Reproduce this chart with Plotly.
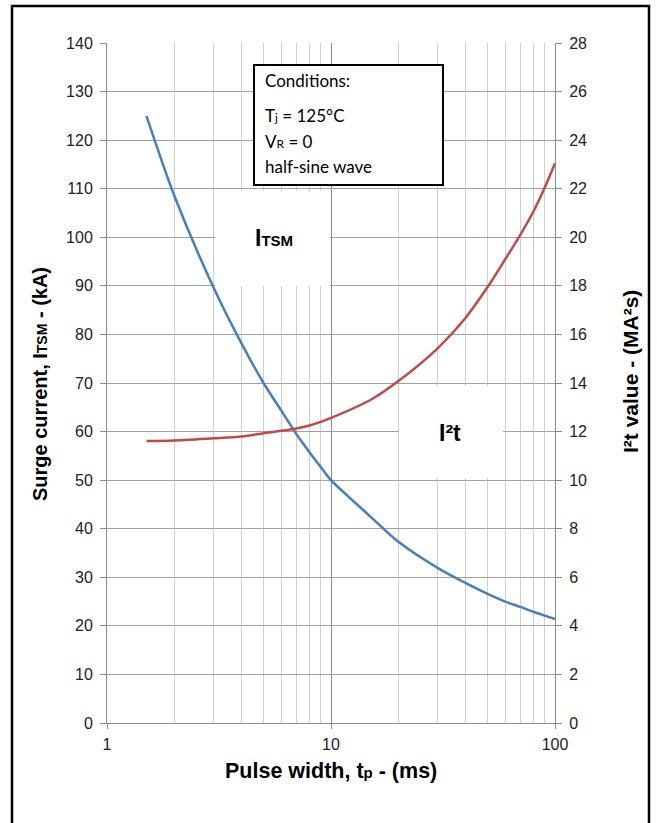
import plotly.graph_objects as go

# ---- data ----
tp_itsm = [1.5, 2, 3, 4, 5, 6, 7, 8, 9, 10, 15, 20, 30, 40, 50, 60, 70, 80, 90, 100]
itsm_ka = [125, 108.5, 89.5, 78, 70, 64.3, 59.5, 55.8, 52.7, 50, 42.5, 37.3, 31.9, 28.8, 26.6, 25.0, 23.9, 22.9, 22.1, 21.4]

tp_i2t = [1.5, 2, 3, 4, 5, 6, 7, 8, 9, 10, 15, 20, 30, 40, 50, 60, 70, 80, 90, 100]
i2t_ma2s = [11.61, 11.63, 11.72, 11.8, 11.93, 12.03, 12.13, 12.25, 12.4, 12.56, 13.3, 14.08, 15.44, 16.7, 17.95, 19.1, 20.1, 21.05, 22.05, 23.05]

x_major = [1, 10, 100]
x_minor = [2, 3, 4, 5, 6, 7, 8, 9, 20, 30, 40, 50, 60, 70, 80, 90]

W, H = 657, 823
L, R, T, B = 107, 555, 43, 723


def px(x):
    return (x - L) / (R - L)


def py(y):
    return (B - y) / (B - T)


fig = go.Figure()
fig.add_trace(go.Scatter(x=tp_itsm, y=itsm_ka, mode="lines", yaxis="y",
                         line=dict(color="#4a7ebb", width=2.5, shape="spline", smoothing=0.8),
                         showlegend=False, hoverinfo="skip"))
fig.add_trace(go.Scatter(x=tp_i2t, y=i2t_ma2s, mode="lines", yaxis="y2",
                         line=dict(color="#be4b48", width=2.5, shape="spline", smoothing=0.8),
                         showlegend=False, hoverinfo="skip"))

tickfont = dict(family="Liberation Sans, Arial, sans-serif", size=16, color="#222222")

fig.update_layout(
    width=W, height=H,
    margin=dict(l=L, r=W - R, t=T, b=H - B),
    paper_bgcolor="white", plot_bgcolor="white",
    xaxis=dict(type="log", range=[0, 2], tickvals=x_major, ticktext=["1", "10", "100"],
               showgrid=True, gridcolor="#8c8c8c", gridwidth=1,
               ticks="outside", ticklen=5, tickcolor="#8c8c8c",
               showline=True, linecolor="#8c8c8c", linewidth=1,
               tickfont=tickfont, zeroline=False, ticklabelstandoff=2,
               minor=dict(tickvals=x_minor, showgrid=True, gridcolor="#d0d0d0", gridwidth=1, ticks="")),
    yaxis=dict(range=[0, 140], dtick=10, showgrid=True, gridcolor="#a0a0a0", gridwidth=1,
               ticks="outside", ticklen=6, tickcolor="#8c8c8c",
               showline=True, linecolor="#8c8c8c", linewidth=1,
               tickfont=tickfont, zeroline=False, ticklabelstandoff=4),
    yaxis2=dict(range=[0, 28], dtick=2, overlaying="y", side="right", showgrid=False,
                ticks="outside", ticklen=6, tickcolor="#8c8c8c",
                showline=True, linecolor="#8c8c8c", linewidth=1,
                tickfont=tickfont, zeroline=False, ticklabelstandoff=4),
)

shapes = []
# outer frame
shapes.append(dict(type="rect", xref="paper", yref="paper",
                   x0=px(12), x1=px(649), y0=py(840), y1=py(6),
                   line=dict(color="black", width=2.5), fillcolor="rgba(0,0,0,0)", layer="above"))
# white label boxes hiding grid
shapes.append(dict(type="rect", xref="paper", yref="paper",
                   x0=px(215), x1=px(330), y0=py(286), y1=py(191),
                   line=dict(width=0), fillcolor="white", layer="above"))
shapes.append(dict(type="rect", xref="paper", yref="paper",
                   x0=px(399), x1=px(503), y0=py(478), y1=py(386),
                   line=dict(width=0), fillcolor="white", layer="above"))
# conditions box
shapes.append(dict(type="rect", xref="paper", yref="paper",
                   x0=px(254), x1=px(443), y0=py(185), y1=py(65),
                   line=dict(color="black", width=2), fillcolor="white", layer="above"))
fig.update_layout(shapes=shapes)

cfont = dict(family="Lato, Open Sans, sans-serif", size=17, color="black")
bold = dict(family="Liberation Sans, Arial, sans-serif", size=20, color="black")
ann = []
ann.append(dict(text="Conditions:", x=px(263), y=py(80)))
ann.append(dict(text="T<span style='font-size:12px'>j</span> = 125°C", x=px(263), y=py(116)))
ann.append(dict(text="V<span style='font-size:12px'>R</span> = 0", x=px(263), y=py(141)))
ann.append(dict(text="half-sine wave", x=px(263), y=py(166)))
for a in ann:
    a.update(xref="paper", yref="paper", xanchor="left", yanchor="middle", showarrow=False, font=cfont)

ann.append(dict(text="<b><span style='font-size:23px'>I</span>TSM</b>", x=px(274), y=py(238),
                xref="paper", yref="paper", showarrow=False, xanchor="center", yanchor="middle",
                font=dict(family="Liberation Sans, Arial, sans-serif", size=15, color="black")))
ann.append(dict(text="<b>I²t</b>", x=px(450), y=py(433),
                xref="paper", yref="paper", showarrow=False, xanchor="center", yanchor="middle",
                font=dict(family="Liberation Sans, Arial, sans-serif", size=23, color="black")))
ann.append(dict(text="<b>Pulse width, t<span style='font-size:15px'>p</span> - (ms)</b>", x=px(331), y=py(771),
                xref="paper", yref="paper", showarrow=False, xanchor="center", yanchor="middle",
                font=dict(family="Liberation Sans, Arial, sans-serif", size=21.5, color="black")))
ann.append(dict(text="<b>Surge current, I<span style='font-size:14px'>TSM</span> - (kA)</b>", x=px(40), y=py(384),
                xref="paper", yref="paper", showarrow=False, xanchor="center", yanchor="middle",
                textangle=-90, font=bold))
ann.append(dict(text="<b>I²t value - (MA²s)</b>", x=px(631), y=py(372),
                xref="paper", yref="paper", showarrow=False, xanchor="center", yanchor="middle",
                textangle=-90, font=dict(family="Liberation Sans, Arial, sans-serif", size=21, color="black")))
fig.update_layout(annotations=ann)

fig.write_html("out.html")
